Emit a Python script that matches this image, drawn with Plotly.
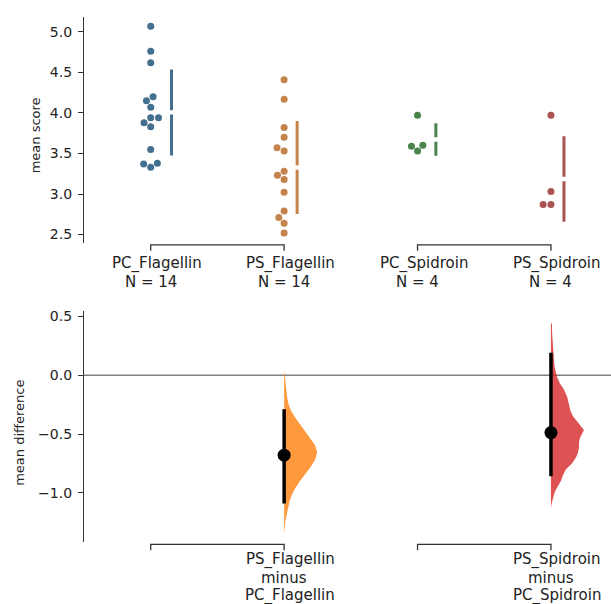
import colorsys
import numpy as np
import plotly.graph_objects as go

# ---------------- data ----------------
groups = ["PC_Flagellin", "PS_Flagellin", "PC_Spidroin", "PS_Spidroin"]
pc_flagellin = [5.07, 4.76, 4.62, 4.20, 4.15, 4.07, 3.94, 3.94, 3.88, 3.83, 3.55, 3.38, 3.37, 3.33]
ps_flagellin = [4.41, 4.17, 3.82, 3.70, 3.57, 3.53, 3.28, 3.23, 3.18, 3.02, 2.79, 2.71, 2.64, 2.52]
pc_spidroin = [3.97, 3.60, 3.59, 3.53]
ps_spidroin = [3.97, 3.03, 2.87, 2.87]
group_values = [pc_flagellin, ps_flagellin, pc_spidroin, ps_spidroin]

pairs = [(0, 1), (2, 3)]
comparison_labels = [["PS_Flagellin", "minus", "PC_Flagellin"],
                     ["PS_Spidroin", "minus", "PC_Spidroin"]]
ci_low = [-1.09, -0.86]
ci_high = [-0.29, 0.19]

# bootstrap distributions (value, relative density)
boot_flag_y = [0.05, 0.0, -0.1, -0.19, -0.25, -0.305, -0.36, -0.418, -0.475, -0.531, -0.595,
               -0.658, -0.72, -0.786, -0.84, -0.898, -0.955, -1.011, -1.07, -1.125, -1.18,
               -1.237, -1.30, -1.35]
boot_flag_d = [0, 0.6, 1.5, 3, 4.5, 7, 11, 16, 21, 26, 31, 33, 31, 26, 21, 16, 11.5, 8, 5.5,
               4, 2.5, 1.3, 0.6, 0]
boot_spid_y = [0.45, 0.43, 0.35, 0.25, 0.15, 0.076, 0.02, -0.023, -0.07, -0.121, -0.192,
               -0.25, -0.305, -0.35, -0.39, -0.43, -0.466, -0.50, -0.534, -0.575, -0.616,
               -0.66, -0.70, -0.75, -0.80, -0.85, -0.898, -0.95, -0.99, -1.03, -1.068, -1.10,
               -1.136]
boot_spid_d = [0, 1, 1.2, 1.8, 2.5, 3.5, 5, 6.5, 9, 13, 16.5, 18, 19.5, 22, 26, 30, 33, 31,
               29, 28, 28, 27, 25, 21, 15, 12, 10, 6.5, 4, 2.5, 1, 0.5, 0]
boot_y = [boot_flag_y, boot_spid_y]
boot_d = [boot_flag_d, boot_spid_d]

y1_ticks = [2.5, 3.0, 3.5, 4.0, 4.5, 5.0]
y2_ticks = [-1.0, -0.5, 0.0, 0.5]

# ---------------- layout constants ----------------
W, H = 611, 604
PL, PR = 84, 611                 # plot area left/right px
X_RANGE = [-0.5, 3.45]
Y1_PX = (14, 241)
Y1_RANGE = [2.398, 5.184]
Y2_PX = (310, 542)
Y2_RANGE = [-1.421, 0.542]
XPX = (PR - PL) / (X_RANGE[1] - X_RANGE[0])
Y1PX = (Y1_PX[1] - Y1_PX[0]) / (Y1_RANGE[1] - Y1_RANGE[0])
FONT = "DejaVu Sans"
AX = "#333333"


def py(px):
    return 1 - px / H


tab10 = ["#1f77b4", "#ff7f0e", "#2ca02c", "#d62728"]


def hex2rgb(h):
    h = h.lstrip("#")
    return tuple(int(h[i:i + 2], 16) / 255 for i in (0, 2, 4))


def desat(h, f):
    r, g, b = hex2rgb(h)
    hh, l, s = colorsys.rgb_to_hls(r, g, b)
    r, g, b = colorsys.hls_to_rgb(hh, l, s * f)
    return "rgb(%d,%d,%d)" % (round(r * 255), round(g * 255), round(b * 255))


def rgba(h, a):
    r, g, b = hex2rgb(h)
    return "rgba(%d,%d,%d,%.2f)" % (round(r * 255), round(g * 255), round(b * 255), a)


swarm_colors = [desat(c, 0.5) for c in tab10]


def beeswarm(values, d):
    vals = np.asarray(values, float)
    order = np.argsort(vals, kind="stable")
    placed = []
    offs = np.zeros(len(vals))
    for i in order:
        y = vals[i] * Y1PX
        neigh = [(x, yy) for x, yy in placed if abs(yy - y) < d]
        lefts = [x - np.sqrt(d * d - (yy - y) ** 2) for x, yy in neigh]
        rights = [x + np.sqrt(d * d - (yy - y) ** 2) for x, yy in neigh]
        cands = sorted([0.0] + lefts + rights, key=abs)
        chosen = 0.0
        for c in cands:
            if all((c - x) ** 2 + (yy - y) ** 2 >= d * d - 1e-6 for x, yy in neigh):
                chosen = c
                break
        placed.append((chosen, y))
        offs[i] = chosen
    return offs


fig = go.Figure()

# ---------------- top: swarm + mean/sd ----------------
for gi, vals in enumerate(group_values):
    offs = beeswarm(vals, 7.8)
    fig.add_trace(go.Scatter(
        x=gi + offs / XPX, y=vals, mode="markers",
        marker=dict(size=7, color=swarm_colors[gi], line=dict(width=0)),
        xaxis="x", yaxis="y", hoverinfo="skip"))
    m = float(np.mean(vals))
    s = float(np.std(vals, ddof=1))
    lx = gi + (offs.max() + 13) / XPX
    gap = 2.2 / Y1PX
    fig.add_trace(go.Scatter(
        x=[lx, lx, None, lx, lx], y=[m - s, m - gap, None, m + gap, m + s],
        mode="lines", line=dict(color=swarm_colors[gi], width=3),
        xaxis="x", yaxis="y", hoverinfo="skip"))

# ---------------- bottom: half violins + CI ----------------
for ci, (a, b) in enumerate(pairs):
    diff = float(np.mean(group_values[b]) - np.mean(group_values[a]))
    dens = np.asarray(boot_d[ci], float)
    dens = dens / dens.max() * (33 / XPX)
    yy = list(boot_y[ci])
    xs = [b + v for v in dens] + [b for _ in yy[::-1]]
    ys = yy + yy[::-1]
    fig.add_trace(go.Scatter(
        x=xs, y=ys, mode="lines", fill="toself",
        fillcolor=rgba(tab10[b], 0.8), line=dict(width=0, color=rgba(tab10[b], 0.8)),
        xaxis="x2", yaxis="y2", hoverinfo="skip"))
    fig.add_trace(go.Scatter(
        x=[b, b], y=[ci_low[ci], ci_high[ci]], mode="lines",
        line=dict(color="black", width=3.5), xaxis="x2", yaxis="y2", hoverinfo="skip"))
    fig.add_trace(go.Scatter(
        x=[b], y=[diff], mode="markers", marker=dict(size=13, color="black"),
        xaxis="x2", yaxis="y2", hoverinfo="skip"))

shapes = []
annotations = []
# zero reference line
shapes.append(dict(type="line", xref="paper", x0=PL / W, x1=1, yref="y2", y0=0, y1=0,
                   line=dict(color="#808080", width=1.5), layer="below"))

# brackets
for (a, b) in pairs:
    for top, bot in ((243, 249), (544, 550)):
        shapes.append(dict(
            type="path", xref="x", yref="paper",
            path="M %f,%f L %f,%f L %f,%f L %f,%f" % (a, py(bot), a, py(top), b, py(top), b, py(bot)),
            line=dict(color=AX, width=1.3)))

# group labels
for gi, g in enumerate(groups):
    annotations.append(dict(x=gi, xref="x", y=py(262), yref="paper", text=g, showarrow=False,
                            xshift=6, yanchor="middle", font=dict(size=15, family=FONT, color="#222")))
    annotations.append(dict(x=gi, xref="x", y=py(280), yref="paper",
                            text="N = %d" % len(group_values[gi]), showarrow=False,
                            yanchor="middle", font=dict(size=15, family=FONT, color="#222")))
# comparison labels
for ci, (a, b) in enumerate(pairs):
    for li, (txt, ypx) in enumerate(zip(comparison_labels[ci], (559, 578, 595))):
        annotations.append(dict(x=b, xref="x2", y=py(ypx), yref="paper", text=txt,
                                showarrow=False, xshift=0 if li == 1 else 6, yanchor="middle",
                                font=dict(size=15, family=FONT, color="#222")))

# axis titles
annotations.append(dict(x=35 / W, xref="paper", y=py(133), yref="paper", text="mean score",
                        textangle=-90, showarrow=False, xanchor="center", yanchor="middle",
                        font=dict(size=13, family=FONT, color="#222")))
annotations.append(dict(x=20 / W, xref="paper", y=py(432), yref="paper", text="mean difference",
                        textangle=-90, showarrow=False, xanchor="center", yanchor="middle",
                        font=dict(size=13, family=FONT, color="#222")))

yax = dict(showline=True, linecolor=AX, linewidth=1.3, ticks="outside", ticklen=5,
           tickwidth=1.3, tickcolor=AX, showgrid=False, zeroline=False, tickformat=".1f",
           tickfont=dict(size=14, family=FONT, color="#222"), ticklabelstandoff=3)

fig.update_layout(
    width=W, height=H, margin=dict(l=0, r=0, t=0, b=0),
    paper_bgcolor="white", plot_bgcolor="white", showlegend=False,
    font=dict(family=FONT, color="#222"),
    xaxis=dict(domain=[PL / W, 1], range=X_RANGE, visible=False, anchor="y"),
    yaxis=dict(domain=[py(Y1_PX[1]), py(Y1_PX[0])], range=Y1_RANGE, anchor="x",
               tickvals=y1_ticks, **yax),
    xaxis2=dict(domain=[PL / W, 1], range=X_RANGE, visible=False, anchor="y2"),
    yaxis2=dict(domain=[py(Y2_PX[1]), py(Y2_PX[0])], range=Y2_RANGE, anchor="x2",
                tickvals=y2_ticks, **yax),
    shapes=shapes, annotations=annotations,
)

fig.write_html("out.html", config={"displayModeBar": False},
               post_script="document.body.style.margin='0';")
